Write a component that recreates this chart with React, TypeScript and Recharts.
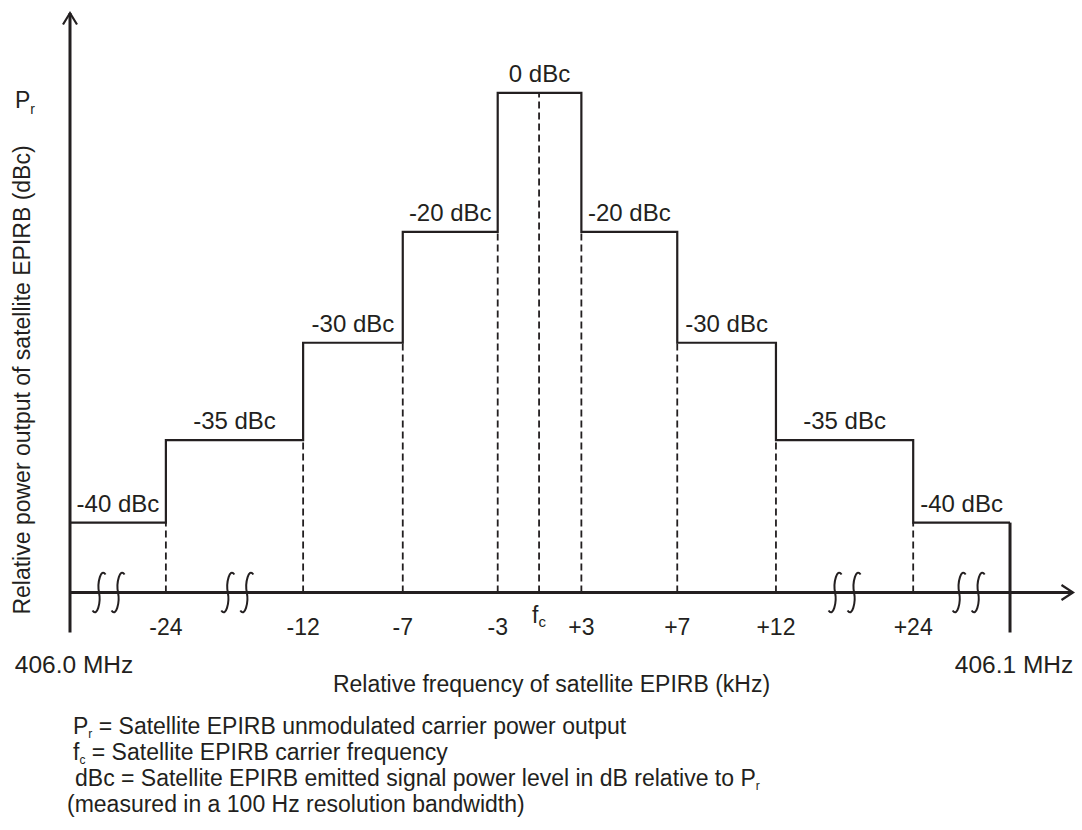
import { ComposedChart, Line, XAxis, YAxis, ReferenceLine, ReferenceDot } from "recharts";
import type { CSSProperties } from "react";

// band edges along the (broken) frequency axis, as drawn: % of the 406.0–406.1 MHz span
const EDGE_LABELS = ["-24", "-12", "-7", "-3", "fc", "+3", "+7", "+12", "+24"];
const EDGE_POS = [10.2, 24.8, 35.4, 45.5, 49.9, 54.4, 64.6, 75.1, 89.7];

// mask levels, left to right; drawn height is % of the 0 dBc step (diagram is not to scale)
const BAND_DBC = [-40, -35, -30, -20, 0, -20, -30, -35, -40];
const BAND_HEIGHT = [14, 30.5, 50, 72.2, 100, 72.2, 50, 30.5, 14];

const SPAN = [0, 100];
const SPAN_LABELS = ["406.0 MHz", "406.1 MHz"];
const BREAK_POS = [4.1, 17.8, 82.4, 95.6];

const X_DOMAIN: [number, number] = [0, 106.7];
const Y_DOMAIN: [number, number] = [-8, 116];

const INK = "#231f20";
const FONT = "'Liberation Sans', Arial, sans-serif";

const bandEdges = [SPAN[0], ...EDGE_POS.filter((_, i) => EDGE_LABELS[i] !== "fc"), SPAN[1]];
const maskData = [
  ...BAND_HEIGHT.map((h, i) => ({ x: bandEdges[i], h })),
  { x: SPAN[1], h: BAND_HEIGHT[BAND_HEIGHT.length - 1] },
];

// dashed drop line at each edge goes up to the lower of the bands touching it
const dropHeight = (x: number) =>
  Math.min(...BAND_HEIGHT.filter((_, i) => bandEdges[i] <= x && x <= bandEdges[i + 1]));

function EdgeTick({ x, y, payload }: any) {
  const label = EDGE_LABELS[EDGE_POS.indexOf(payload.value)];
  if (label === "fc") {
    return (
      <text x={x} y={y - 10} textAnchor="middle" style={txt}>
        f<tspan fontSize={15} dy={4}>c</tspan>
      </text>
    );
  }
  return (
    <text x={x} y={y + 2.5} textAnchor="middle" style={txt}>
      {label}
    </text>
  );
}

const glyph = (cx: number, cy: number) =>
  `M${cx - 6.5},${cy + 18} C${cx - 2},${cy + 25} ${cx + 2},${cy + 10} ${cx},${cy} ` +
  `C${cx - 2},${cy - 10} ${cx + 2},${cy - 25} ${cx + 6.5},${cy - 18}`;

export default function App() {
  return (
    <div style={{ position: "absolute", left: 0, top: 0, background: "#fff" }}>
      <ComposedChart
        width={1082}
        height={830}
        data={maskData}
        margin={{ top: 13, right: 9, bottom: 167.5, left: 70 }}
      >
        <XAxis
          type="number"
          dataKey="x"
          domain={X_DOMAIN}
          ticks={EDGE_POS}
          interval={0}
          height={30}
          axisLine={false}
          tickLine={false}
          tickSize={0}
          tickMargin={0}
          tick={<EdgeTick />}
        />
        <YAxis type="number" domain={Y_DOMAIN} hide />

        {/* axes */}
        <ReferenceLine
          segment={[{ x: 0, y: Y_DOMAIN[0] }, { x: 0, y: Y_DOMAIN[1] }]}
          stroke={INK}
          strokeWidth={3}
        />
        <ReferenceLine
          segment={[{ x: 0, y: 0 }, { x: X_DOMAIN[1], y: 0 }]}
          stroke={INK}
          strokeWidth={3}
        />
        <ReferenceLine
          segment={[{ x: SPAN[1], y: Y_DOMAIN[0] }, { x: SPAN[1], y: BAND_HEIGHT[BAND_HEIGHT.length - 1] }]}
          stroke={INK}
          strokeWidth={3}
        />
        <ReferenceDot
          x={0}
          y={Y_DOMAIN[1]}
          r={0}
          shape={({ cx, cy }: any) => (
            <path d={`M${cx - 7},${cy + 11.5} L${cx},${cy} L${cx + 7},${cy + 11.5}`} fill="none" stroke={INK} strokeWidth={2.2} />
          )}
        />
        <ReferenceDot
          x={X_DOMAIN[1]}
          y={0}
          r={0}
          shape={({ cx, cy }: any) => (
            <path d={`M${cx - 11.5},${cy - 7.5} L${cx},${cy} L${cx - 11.5},${cy + 7.5}`} fill="none" stroke={INK} strokeWidth={2.2} />
          )}
        />

        {/* dashed drop lines */}
        {EDGE_POS.map((x) => (
          <ReferenceLine
            key={x}
            segment={[{ x, y: 0 }, { x, y: dropHeight(x) }]}
            stroke={INK}
            strokeWidth={1.8}
            strokeDasharray="7 4"
          />
        ))}

        <Line
          type="stepAfter"
          dataKey="h"
          stroke={INK}
          strokeWidth={2.2}
          dot={false}
          isAnimationActive={false}
        />

        {/* band labels */}
        {BAND_DBC.map((db, i) => (
          <ReferenceDot
            key={i}
            x={(bandEdges[i] + bandEdges[i + 1]) / 2}
            y={BAND_HEIGHT[i]}
            r={0}
            shape={({ cx, cy }: any) => (
              <text x={cx} y={cy - 11} textAnchor="middle" style={{ ...txt, fontSize: 24 }}>
                {db} dBc
              </text>
            )}
          />
        ))}

        {/* axis breaks */}
        {BREAK_POS.map((x) => (
          <ReferenceDot
            key={x}
            x={x}
            y={0}
            r={0}
            shape={({ cx, cy }: any) => (
              <g fill="none" stroke={INK} strokeWidth={2}>
                <path d={glyph(cx - 9.5, cy)} />
                <path d={glyph(cx + 9.5, cy)} />
              </g>
            )}
          />
        ))}

        {/* span end labels */}
        {SPAN.map((x, i) => (
          <ReferenceDot
            key={x}
            x={x}
            y={Y_DOMAIN[0]}
            r={0}
            shape={({ cx, cy }: any) => (
              <text x={cx + 4} y={cy + 40.5} textAnchor="middle" style={{ ...txt, fontSize: 24.5 }}>
                {SPAN_LABELS[i]}
              </text>
            )}
          />
        ))}

        <text x={15} y={108} style={txt}>
          P<tspan fontSize={14} dy={6}>r</tspan>
        </text>
        <text x={30} y={380} transform="rotate(-90 30 380)" textAnchor="middle" style={txt}>
          Relative power output of satellite EPIRB (dBc)
        </text>
        <text x={551.5} y={692} textAnchor="middle" style={txt}>
          Relative frequency of satellite EPIRB (kHz)
        </text>

        <text x={73} y={734} style={txt}>
          P<tspan fontSize={12} dy={4}>r</tspan>
          <tspan dy={-4}> = Satellite EPIRB unmodulated carrier power output</tspan>
        </text>
        <text x={73} y={760} style={txt}>
          f<tspan fontSize={12} dy={4}>c</tspan>
          <tspan dy={-4}> = Satellite EPIRB carrier frequency</tspan>
        </text>
        <text x={75} y={786} style={txt}>
          dBc = Satellite EPIRB emitted signal power level in dB relative to P
          <tspan fontSize={12} dy={4}>r</tspan>
        </text>
        <text x={67} y={812} style={txt}>
          (measured in a 100 Hz resolution bandwidth)
        </text>
      </ComposedChart>
    </div>
  );
}

const txt: CSSProperties = {
  fontFamily: FONT,
  fontSize: 23,
  fill: INK,
};
